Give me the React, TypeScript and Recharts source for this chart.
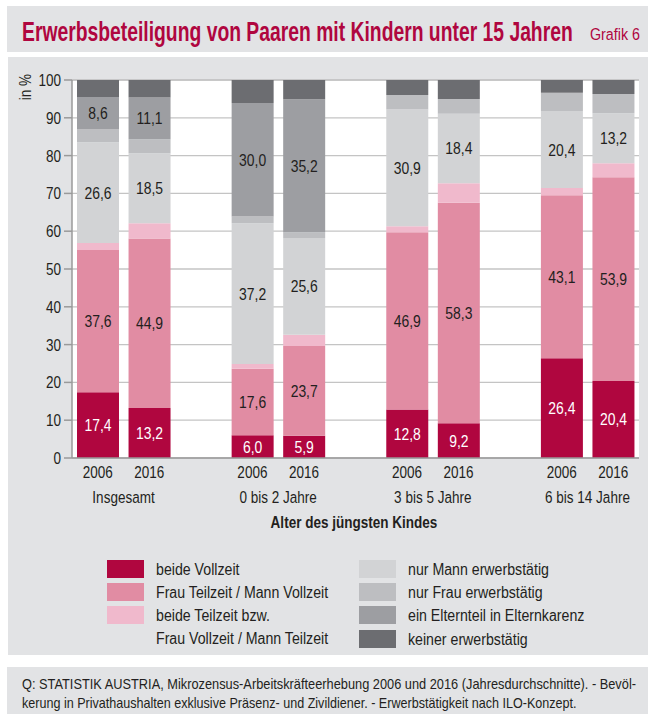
import React from 'react';
import { BarChart, Bar, XAxis, YAxis, CartesianGrid, LabelList } from 'recharts';

const groups = ['Insgesamt', '0 bis 2 Jahre', '3 bis 5 Jahre', '6 bis 14 Jahre'];
const years = ['2006', '2016'];

const beideVollzeit = [17.4, 13.2, 6.0, 5.9, 12.8, 9.2, 26.4, 20.4];
const frauTeilzeit = [37.6, 44.9, 17.6, 23.7, 46.9, 58.3, 43.1, 53.9];
const beideTeilzeit = [1.9, 4.0, 1.3, 3.0, 1.6, 5.2, 1.9, 3.7];
const nurMann = [26.6, 18.5, 37.2, 25.6, 30.9, 18.4, 20.4, 13.2];
const nurFrau = [3.4, 3.7, 1.8, 1.5, 3.8, 3.9, 4.8, 5.1];
const karenz = [8.6, 11.1, 30.0, 35.2, 0, 0, 0, 0];
const keiner = [4.5, 4.6, 6.1, 5.1, 4.0, 5.0, 3.4, 3.7];

const yTicks = [0, 10, 20, 30, 40, 50, 60, 70, 80, 90, 100];

const seriesLabels = [
  'beide Vollzeit',
  'Frau Teilzeit / Mann Vollzeit',
  'beide Teilzeit bzw.',
  'nur Mann erwerbstätig',
  'nur Frau erwerbstätig',
  'ein Elternteil in Elternkarenz',
  'keiner erwerbstätig',
];

const C = {
  bv: '#b0063f',
  ft: '#e18ca3',
  bt: '#f0b9cc',
  nm: '#d2d3d5',
  nf: '#bdbec1',
  ek: '#9d9ea2',
  ke: '#6c6d71',
};

const BASE = '"Liberation Sans", Arial, sans-serif';
const NARROW = 0.82;
const PANEL = '#e2e3e5';
const TEXT = '#231f20';

type Row = { key: string; year: string; group: string; [k: string]: any };
const rows: Row[] = [];
groups.forEach((g, gi) => {
  if (gi > 0) rows.push({ key: `gap${gi}`, year: '', group: '' });
  years.forEach((y, yi) => {
    const i = gi * 2 + yi;
    rows.push({
      key: `${g} ${y}`,
      year: y,
      group: yi === 0 ? g : '',
      bv: beideVollzeit[i],
      ft: frauTeilzeit[i],
      bt: beideTeilzeit[i],
      nm: nurMann[i],
      nf: nurFrau[i],
      ek: karenz[i],
      ke: keiner[i],
    });
  });
});

const CHART_W = 648;
const CHART_H = 530;
const MARGIN = { top: 80, right: 9, left: 0, bottom: 0 };
const Y_W = 72;
const X_H = CHART_H - 458;
const slot = (CHART_W - MARGIN.right - MARGIN.left - Y_W) / rows.length;

const fmt = (v: any) => (v === undefined || v === null || v === 0 ? '' : Number(v).toFixed(1).replace('.', ','));

let ctx: CanvasRenderingContext2D | null = null;
function measure(text: string, font: string): number {
  if (typeof document === 'undefined') return 0;
  if (!ctx) ctx = document.createElement('canvas').getContext('2d');
  if (!ctx) return 0;
  ctx.font = font;
  return ctx.measureText(text).width;
}

function NText(props: any) {
  const { x, y, anchor = 'start', size = 16, weight = 'normal', fill = TEXT, sx = NARROW, children } = props;
  return (
    <text
      transform={`translate(${x},${y}) scale(${sx},1)`}
      x={0}
      y={0}
      textAnchor={anchor}
      fontFamily={BASE}
      fontSize={size}
      fontWeight={weight}
      fill={fill}
    >
      {children}
    </text>
  );
}

function FitText(props: any) {
  const { width, size = 16, weight = 'normal', children } = props;
  const w = measure(String(children), `${weight} ${size}px "Liberation Sans"`);
  const sx = w > 0 ? width / w : NARROW;
  return <NText {...props} sx={sx} />;
}

const XTick = (props: any) => {
  const { x, payload } = props;
  const row = rows.find((r) => r.key === payload.value);
  if (!row || !row.year) return null;
  return (
    <g>
      <NText x={x} y={478} anchor="middle" size={16.5}>
        {row.year}
      </NText>
      {row.group ? (
        <NText x={x + slot / 2} y={503} anchor="middle" size={16.5}>
          {row.group}
        </NText>
      ) : null}
    </g>
  );
};

const YTick = (props: any) => {
  const { x, y, payload } = props;
  return (
    <NText x={x} y={y + 6} anchor="end" size={16.5}>
      {payload.value}
    </NText>
  );
};

const makeLabel = (fill: string) => (props: any) => {
  const { x, y, width, height, value } = props;
  const s = fmt(value);
  if (!s) return null;
  return (
    <NText x={Number(x) + Number(width) / 2} y={Number(y) + Number(height) / 2 + 6} anchor="middle" size={17} fill={fill}>
      {s}
    </NText>
  );
};

const legendLeft = [
  { c: C.bv, t: [seriesLabels[0]] },
  { c: C.ft, t: [seriesLabels[1]] },
  { c: C.bt, t: [seriesLabels[2], 'Frau Vollzeit / Mann Teilzeit'] },
];
const legendRight = [
  { c: C.nm, t: [seriesLabels[3]] },
  { c: C.nf, t: [seriesLabels[4]] },
  { c: C.ek, t: [seriesLabels[5]] },
  { c: C.ke, t: [seriesLabels[6]] },
];
const rowY = [560, 583, 606, 630];

export default function App() {
  return (
    <div style={{ position: 'absolute', left: 0, top: 0, width: 648, height: 714, background: '#fff', overflow: 'hidden' }}>
      <svg width={648} height={714} style={{ position: 'absolute', left: 0, top: 0 }}>
        <rect x={7} y={6} width={641} height={46} fill={PANEL} />
        <FitText x={22} y={41} width={551} size={28} weight="bold" fill="#b0063f">
          Erwerbsbeteiligung von Paaren mit Kindern unter 15 Jahren
        </FitText>
        <FitText x={590} y={40} width={50} size={17} fill="#b0063f">
          Grafik 6
        </FitText>
        <rect x={8} y={57} width={640} height={598} fill={PANEL} />
        <g transform="translate(31,87) rotate(-90)">
          <NText x={0} y={0} anchor="middle" size={16.5}>
            in %
          </NText>
        </g>
        <NText x={354} y={528} anchor="middle" size={16.5} weight="bold">
          Alter des jüngsten Kindes
        </NText>
        {legendLeft.map((l, i) => (
          <g key={'l' + i}>
            <rect x={107} y={rowY[i]} width={37} height={18} fill={l.c} />
            {l.t.map((t, j) => (
              <NText key={j} x={156} y={rowY[i] + 15 + j * 23} size={17.3}>
                {t}
              </NText>
            ))}
          </g>
        ))}
        {legendRight.map((l, i) => (
          <g key={'r' + i}>
            <rect x={359} y={rowY[i]} width={37} height={18} fill={l.c} />
            {l.t.map((t, j) => (
              <NText key={j} x={408} y={rowY[i] + 15 + j * 23} size={17.3}>
                {t}
              </NText>
            ))}
          </g>
        ))}
        <rect x={7} y={667} width={641} height={47} fill={PANEL} />
        <FitText x={22} y={689} width={615} size={15}>
          Q: STATISTIK AUSTRIA, Mikrozensus-Arbeitskräfteerhebung 2006 und 2016 (Jahresdurchschnitte). - Bevöl-
        </FitText>
        <FitText x={22} y={708} width={555} size={15}>
          kerung in Privathaushalten exklusive Präsenz- und Zivildiener. - Erwerbstätigkeit nach ILO-Konzept.
        </FitText>
      </svg>
      <div style={{ position: 'absolute', left: 0, top: 0 }}>
        <BarChart width={CHART_W} height={CHART_H} data={rows} margin={MARGIN} barSize={42}>
          <CartesianGrid horizontal vertical={false} stroke="#c4c4c4" strokeWidth={1.3} fill="#ffffff" />
          <YAxis
            type="number"
            domain={[0, 100]}
            ticks={yTicks}
            interval={0}
            width={Y_W}
            axisLine={{ stroke: '#9a9a9a', strokeWidth: 1.5 }}
            tickLine={{ stroke: '#9a9a9a', strokeWidth: 1.5 }}
            tickSize={8}
            tickMargin={3}
            tick={<YTick />}
          />
          <XAxis
            dataKey="key"
            type="category"
            interval={0}
            height={X_H}
            axisLine={{ stroke: '#9a9a9a', strokeWidth: 1.5 }}
            tickLine={false}
            tick={<XTick />}
          />
          <Bar dataKey="bv" stackId="a" fill={C.bv} isAnimationActive={false}>
            <LabelList dataKey="bv" content={makeLabel('#ffffff')} />
          </Bar>
          <Bar dataKey="ft" stackId="a" fill={C.ft} isAnimationActive={false}>
            <LabelList dataKey="ft" content={makeLabel(TEXT)} />
          </Bar>
          <Bar dataKey="bt" stackId="a" fill={C.bt} isAnimationActive={false} />
          <Bar dataKey="nm" stackId="a" fill={C.nm} isAnimationActive={false}>
            <LabelList dataKey="nm" content={makeLabel(TEXT)} />
          </Bar>
          <Bar dataKey="nf" stackId="a" fill={C.nf} isAnimationActive={false} />
          <Bar dataKey="ek" stackId="a" fill={C.ek} isAnimationActive={false}>
            <LabelList dataKey="ek" content={makeLabel(TEXT)} />
          </Bar>
          <Bar dataKey="ke" stackId="a" fill={C.ke} isAnimationActive={false} />
        </BarChart>
      </div>
    </div>
  );
}
